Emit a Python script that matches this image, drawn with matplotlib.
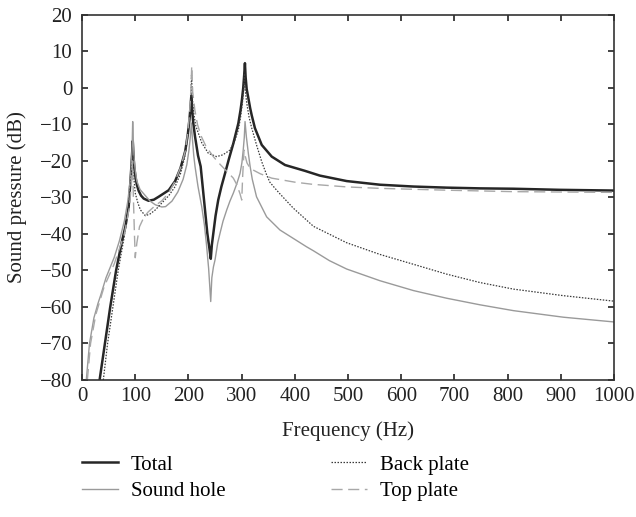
import matplotlib
matplotlib.use("Agg")
import matplotlib.pyplot as plt

# ---- data ----
total_f = [33, 43, 53, 64, 75, 81.5, 87.7, 91, 93, 94.5, 95.3, 96.5, 98, 100.3, 103, 106.5, 111, 116,
           125, 135, 144, 163, 175, 185, 194, 199, 202, 204, 205.5, 207, 209, 212.4, 218, 223,
           229.3, 235.5, 239.5, 242, 244, 246.8, 251, 256, 262, 268.8, 276, 284.4, 293.8, 298,
           300.5, 303, 304.8, 306.2, 307.5, 309.5, 312.7, 316, 319, 325, 337.8, 356.6, 381.6, 419, 447,
           497.5, 560, 623, 685.5, 748, 811, 898, 1000]
total_db = [-80, -70, -60, -50, -42, -38, -32.5, -25.5, -21, -17, -14.5, -18, -21.5, -24.3, -26.5, -28.2, -29.5, -30.3,
            -30.9, -30.6, -29.8, -28, -25.5, -22, -17.3, -12.5, -8.5, -5, -2, -6, -9.5, -13.3, -18.5, -21.5,
            -30.7, -39.8, -44, -46.8, -43, -39.8, -35, -30.7, -27, -23.4, -19.5, -15.2, -9.7, -6,
            -3.3, 0, 3.5, 6.8, 3, -0.3, -2.8, -5.5, -7.5, -11, -15.6, -18.8, -21.1, -22.7, -24,
            -25.5, -26.5, -27, -27.3, -27.5, -27.6, -27.9, -28.1]

hole_f = [8, 14, 22.3, 30, 35, 45, 60.5, 70, 79.6, 86, 90, 92.5, 94, 95.2, 96.5, 98, 100, 103, 109,
          119, 128, 137.8, 150, 157, 169, 180, 190, 197, 201, 203.5, 205.5, 207.5, 210, 212.4, 218,
          225, 230, 234, 238, 241.9, 244, 247, 250, 255, 259.4, 265, 272, 278, 284.4, 291, 297,
          300.5, 303, 305, 306.4, 309, 312.7, 316, 320, 328, 347, 372, 397, 422, 435,
          465, 497.5, 560, 623, 685.5, 748, 811, 905, 1000]
hole_db = [-80, -70, -63, -59, -56.8, -52, -46.4, -42, -36.4, -31, -26, -22, -17, -9.2, -15, -19.5, -22.5, -25.5, -27.8,
           -29.5, -31, -32, -32.6, -32.5, -31, -28.5, -25, -21, -17, -13.5, -9.6, -14, -18.5, -21.5, -27,
           -32.5, -37.5, -43, -49.5, -58.5, -52, -49, -47.1, -42.5, -39.8, -36.5, -33.4, -31, -28.8, -26.2, -23.4,
           -20.5, -17, -13.5, -9.2, -13.5, -18, -21.5, -25, -29.8, -35.3, -38.9, -41.2, -43.5, -44.6,
           -47.3, -49.6, -52.8, -55.5, -57.6, -59.4, -61, -62.8, -64.1]

back_f = [40, 48, 58, 68, 79, 88, 92, 94.2, 95.5, 97, 100, 105, 109.7, 119, 128, 137.8, 150, 163,
          175, 185, 193, 199, 202.5, 204.5, 205.8, 207.5, 210, 214, 218.7, 225, 237.5, 253, 265,
          278, 287, 293.8, 298, 301.5, 303.8, 305.3, 307, 310, 314, 319, 328, 337.8, 347, 353, 362.8, 372,
          397, 435, 497.5, 560, 623, 685.5, 748, 811, 905, 1000]
back_db = [-80, -70, -60, -50, -41, -32, -25, -21, -18.5, -24, -28.8, -31.5, -33.4, -35, -34.5, -33.4, -31.5, -29.5,
           -27, -23.5, -19, -13, -8, -3, 3.5, -3, -7, -10.5, -12.4, -15, -17.9, -18.8, -18.3,
           -17, -14.5, -11.5, -8, -4, 0, 4, -1, -4.5, -8, -11, -15.6, -20.2, -23.8, -25.8, -27.5, -29,
           -32.9, -37.9, -42.4, -45.6, -48.3, -51, -53.3, -55.1, -56.9, -58.4]

top_f = [10, 16, 26, 41.4, 60.5, 79.6, 89, 93, 95, 96.5, 98.5, 100, 103, 108, 116, 124, 137, 150,
         163, 175, 186, 194, 199, 202.5, 204.5, 206.2, 208, 212, 217, 224, 233, 246.8, 260,
         272, 284.4, 291, 297, 300.2, 302, 304.5, 306.5, 310, 316, 322, 335, 356.6, 400,
         434, 497.5, 560, 685, 811, 1000]
top_db = [-80, -70, -62, -54.5, -48.2, -40, -32.7, -26, -20, -30, -40, -46.5, -42.5, -38, -35.5, -34, -32.3, -30.9,
          -28.7, -25.5, -21.5, -17.3, -12, -6, -1, 6, -1, -6, -10, -13.2, -16, -18.8, -21,
          -22.8, -24.7, -26.5, -29, -30.7, -24, -17, -18.5, -20.5, -22, -22.5, -23.5, -24.7, -25.8,
          -26.4, -27.1, -27.5, -28, -28.4, -28.6]

labels = ["Total", "Sound hole", "Back plate", "Top plate"]
x_ticks = list(range(0, 1001, 100))
y_ticks = list(range(-80, 21, 10))

plt.rcParams['font.family'] = ['Liberation Serif', 'DejaVu Serif']
plt.rcParams['axes.unicode_minus'] = True

fig = plt.figure(figsize=(6.36, 5.17), dpi=100)
ax = fig.add_axes([0.129, 0.265, 0.8364, 0.706])

l_total, = ax.plot(total_f, total_db, color='#262626', lw=1.8, label=labels[0])
l_hole, = ax.plot(hole_f, hole_db, color='#9a9a9a', lw=1.0, label=labels[1])
l_back, = ax.plot(back_f, back_db, color='#3a3a3a', lw=0.9, ls=(0, (1.2, 1.2)), label=labels[2])
l_top, = ax.plot(top_f, top_db, color='#a8a8a8', lw=1.0, ls=(0, (8, 4)), label=labels[3])

ax.set_xlim(0, 1000)
ax.set_ylim(-80, 20)
ax.set_xticks(x_ticks)
ax.set_yticks(y_ticks)
ax.set_yticklabels([("\u2212" + str(-v)) if v < 0 else str(v) for v in y_ticks])
ax.tick_params(direction='in', top=True, right=True, length=4, width=1.2,
               labelsize=15, colors='#222222', pad=5)
ax.tick_params(axis='y', pad=7)
for s in ax.spines.values():
    s.set_linewidth(1.2)
    s.set_color('#333333')

ax.set_xlabel("Frequency (Hz)", fontsize=15, color='#222222', labelpad=11)
ax.set_ylabel("Sound pressure (dB)", fontsize=15, color='#222222', labelpad=9)

handles = [l_total, l_hole, l_back, l_top]
fig.legend(handles, labels, loc='upper left', bbox_to_anchor=(0.113, 0.140),
           ncol=2, frameon=False, fontsize=15, handlelength=1.7, borderpad=0,
           columnspacing=5.08, labelspacing=0.35, handletextpad=0.63)

fig.savefig("out.png", dpi=100)
